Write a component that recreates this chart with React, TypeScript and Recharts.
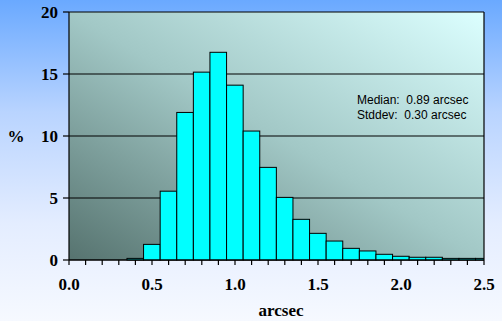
import { ComposedChart, Bar, XAxis, YAxis, CartesianGrid, ReferenceLine } from 'recharts';

// bin centres (arcsec) and percentage of frames in each bin
const binCenters = [0.4, 0.5, 0.6, 0.7, 0.8, 0.9, 1.0, 1.1, 1.2, 1.3, 1.4, 1.5, 1.6, 1.7, 1.8, 1.9, 2.0, 2.1, 2.2, 2.3, 2.4, 2.5];
const percents = [0.13, 1.26, 5.55, 11.9, 15.15, 16.75, 14.1, 10.4, 7.47, 5.05, 3.28, 2.15, 1.53, 0.94, 0.73, 0.46, 0.3, 0.22, 0.22, 0.13, 0.13, 0.13];

const xTicks = [0, 0.1, 0.2, 0.3, 0.4, 0.5, 0.6, 0.7, 0.8, 0.9, 1.0, 1.1, 1.2, 1.3, 1.4, 1.5, 1.6, 1.7, 1.8, 1.9, 2.0, 2.1, 2.2, 2.3, 2.4, 2.5];
const xLabelTicks = [0, 0.5, 1.0, 1.5, 2.0, 2.5];
const yTicks = [0, 5, 10, 15, 20];

const statsLines = ['Median:  0.89 arcsec', 'Stddev:  0.30 arcsec'];

const data = binCenters.map((x, i) => ({ x, pct: percents[i] }));

const serifBold = { fontFamily: '"Liberation Serif", "Times New Roman", serif', fontWeight: 700, fontSize: 17, fill: '#000' };

const fmtX = (v: number) => (xLabelTicks.some(t => Math.abs(t - v) < 1e-6) ? v.toFixed(1) : '');

// plot spans 415px for 2.5 arcsec, so one 0.1 bin is 16.6px wide
const BIN_PX = 16.6;

// histogram bars touch each other: widen each rect to a full bin around its centre
const HistBar = (props: any) => {
    const { x, y, width, height } = props;
    if (height == null || height <= 0) return null;
    const cx = x + width / 2;
    return <rect x={cx - BIN_PX / 2} y={y} width={BIN_PX} height={height} fill="#00ffff" stroke="#000" strokeWidth={1} />;
};

export default function App() {
    return (
        <div style={{ width: 502, height: 321, position: 'absolute', left: 0, top: 0, background: 'linear-gradient(to bottom, #6aa9ff 0%, #b9d4ff 35%, #e4edff 70%, #f6f9ff 100%)' }}>
            <style>{'body{margin:0}'}</style>
            <ComposedChart width={502} height={321} data={data} margin={{ top: 12, right: 18, bottom: 21, left: 0 }}>
                <defs>
                    <linearGradient id="plotBg" x1="0" y1="1" x2="1" y2="0">
                        <stop offset="0%" stopColor="#56736f" />
                        <stop offset="50%" stopColor="#a2c8c6" />
                        <stop offset="100%" stopColor="#dcffff" />
                    </linearGradient>
                </defs>
                <CartesianGrid vertical={false} stroke="#000" strokeWidth={1.2} fill="url(#plotBg)" fillOpacity={1} />
                <XAxis
                    dataKey="x"
                    type="number"
                    domain={[0, 2.5]}
                    ticks={xTicks}
                    interval={0}
                    allowDataOverflow
                    tickFormatter={fmtX}
                    tickSize={5}
                    tickMargin={13}
                    height={40}
                    stroke="#000"
                    strokeWidth={1.2}
                    tick={serifBold}
                    label={(props: any) => (
                        <text x={281} y={316} textAnchor="middle" style={serifBold}>arcsec</text>
                    )}
                />
                <YAxis
                    type="number"
                    domain={[0, 20]}
                    ticks={yTicks}
                    interval={0}
                    width={69}
                    tickSize={6}
                    tickMargin={5}
                    stroke="#000"
                    strokeWidth={1.2}
                    tick={serifBold}
                    label={(props: any) => (
                        <text x={16} y={142} textAnchor="middle" style={serifBold}>%</text>
                    )}
                />
                <Bar dataKey="pct" shape={HistBar} isAnimationActive={false} />
                <ReferenceLine x={2.5} stroke="#000" strokeWidth={1.2} />
                <text x={357} y={104} style={{ fontFamily: '"Liberation Sans", Arial, sans-serif', fontSize: 12, fill: '#000' }}>
                    <tspan x={357} xmlSpace="preserve">{statsLines[0]}</tspan>
                    <tspan x={357} dy={15} xmlSpace="preserve">{statsLines[1]}</tspan>
                </text>
            </ComposedChart>
        </div>
    );
}
